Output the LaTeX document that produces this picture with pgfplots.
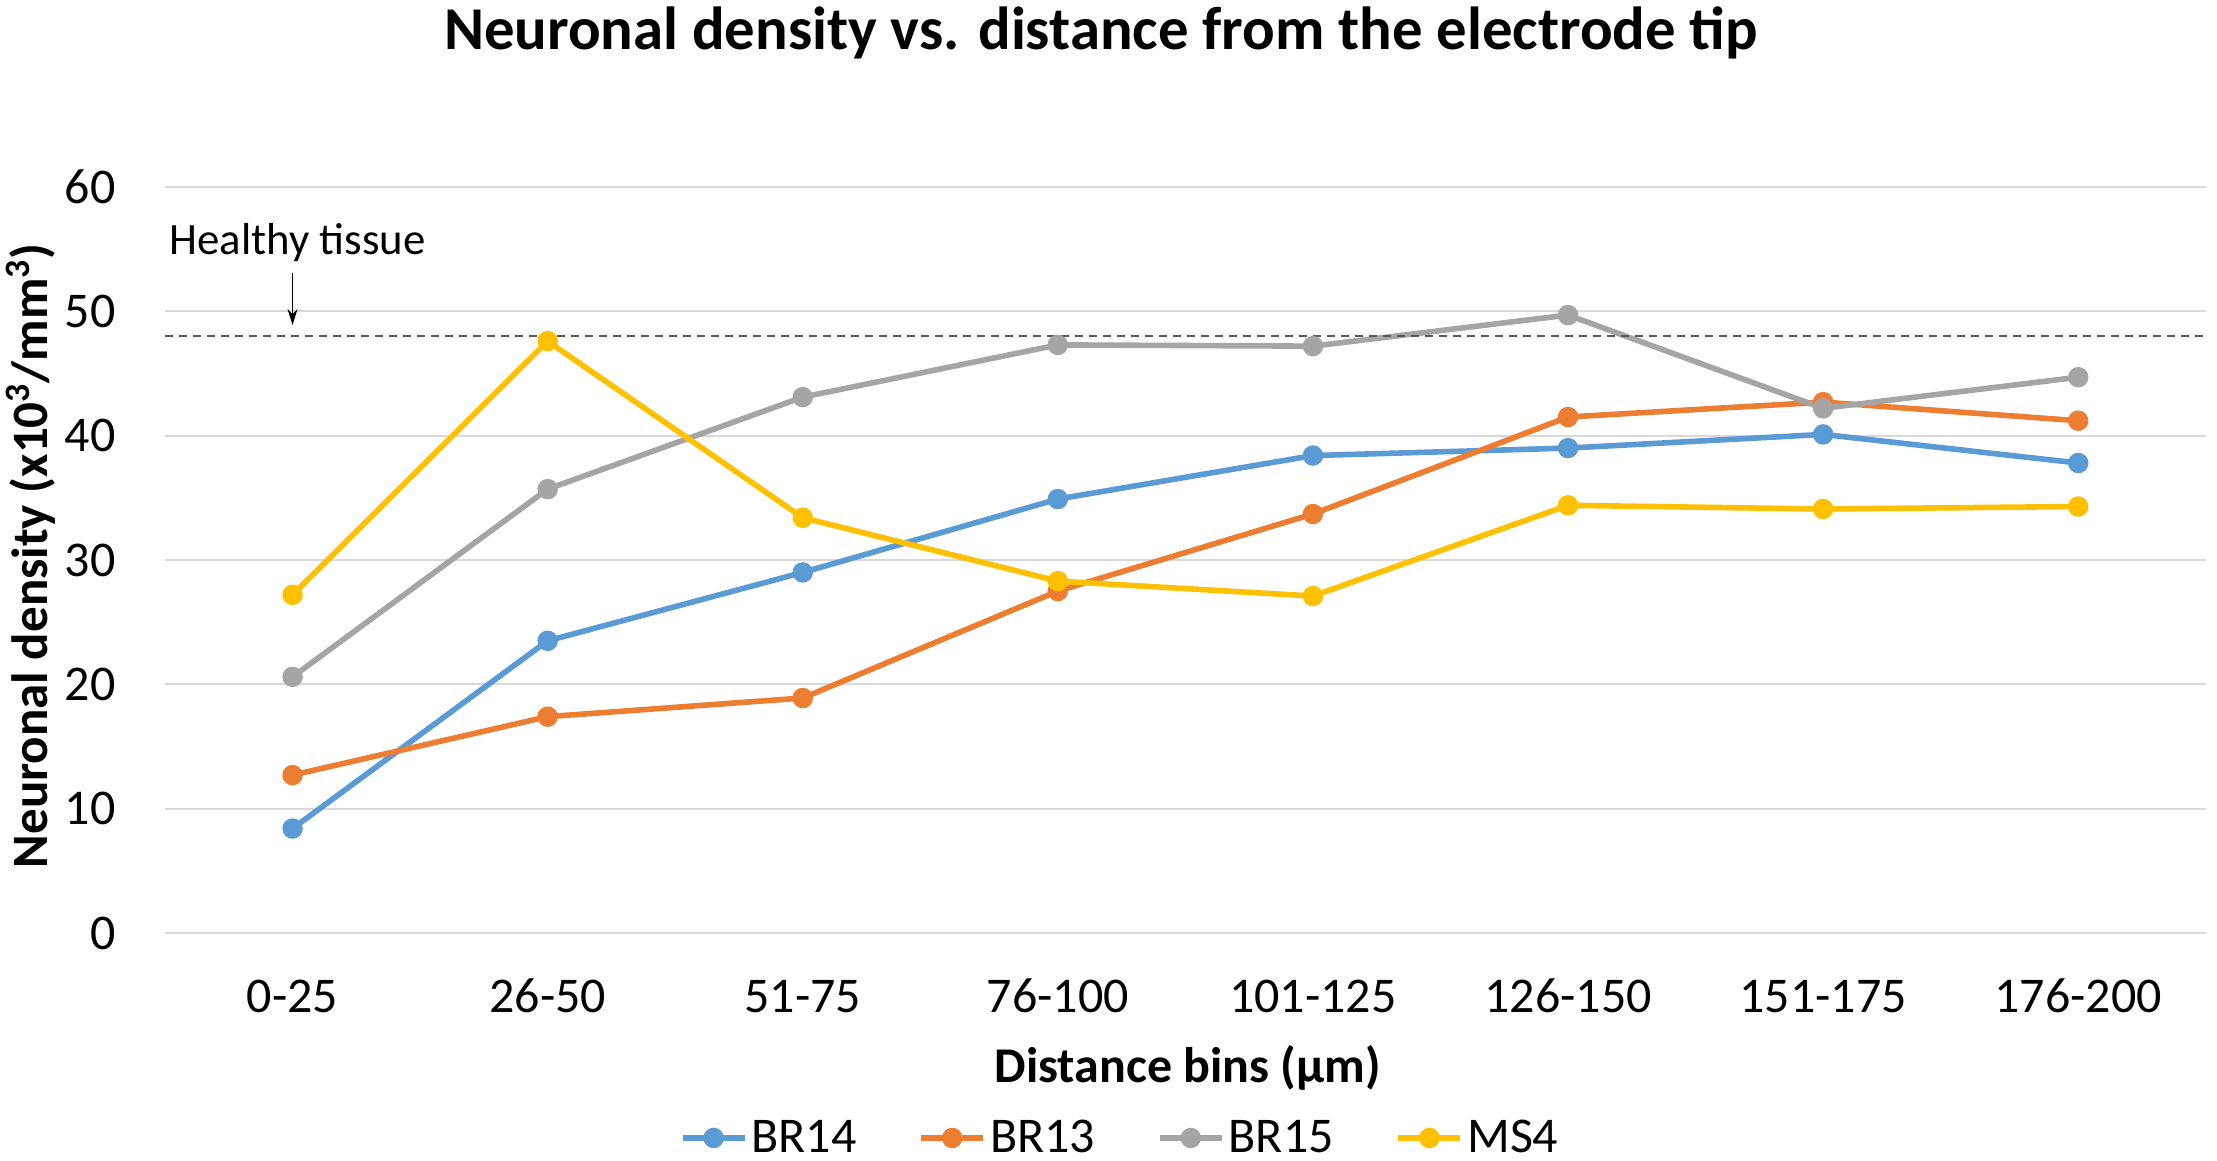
\documentclass[border=0pt]{standalone}
\usepackage{fontspec}
\setmainfont{Carlito}
\usepackage{pgfplots}
\pgfplotsset{compat=1.18}
\usetikzlibrary{arrows.meta}
\definecolor{cBRa}{HTML}{5B9BD5}
\definecolor{cBRb}{HTML}{ED7D31}
\definecolor{cBRc}{HTML}{A5A5A5}
\definecolor{cMS}{HTML}{FFC000}
\definecolor{gridc}{HTML}{D9D9D9}
\pgfplotsset{myline/.style={line width=2.8pt, mark=*, mark size=3.7pt, mark options={solid}}}
\begin{document}
\begin{tikzpicture}
\useasboundingbox (-82.5pt,-114pt) rectangle (1026pt,466.5pt);
\begin{axis}[
  at={(0,0)}, anchor=south west,
  scale only axis, width=1020.5pt, height=373pt,
  xmin=-0.5, xmax=7.5, ymin=0, ymax=60,
  xtick={0,1,2,3,4,5,6,7},
  xticklabels={0-25,26-50,51-75,76-100,101-125,126-150,151-175,176-200},
  ytick={0,10,20,30,40,50,60},
  axis line style={draw=none},
  major tick length=0pt,
  ymajorgrids, grid style={color=gridc, line width=1pt},
  /pgf/number format/assume math mode=true,
  tick label style={font=\fontsize{25}{30}\selectfont},
  xticklabel style={anchor=base, inner sep=0pt, yshift=-40pt},
  yticklabel style={anchor=east, inner sep=0pt, xshift=-24.5pt},
  title={Neuronal density vs. distance from the electrode tip},
  title style={font=\fontsize{30.4}{36}\selectfont\bfseries, at={(axis description cs:0.4586,1.19)}, anchor=center},
  xlabel={Distance bins (µm)},
  xlabel style={font=\fontsize{25}{30}\selectfont\bfseries, at={(axis description cs:0.5012,-0.181)}, anchor=center},
  ylabel={Neuronal density (x10\textsuperscript{3}/mm\textsuperscript{3})},
  ylabel style={font=\fontsize{25.5}{30}\selectfont\bfseries, at={(axis description cs:-0.0657,0.5056)}, anchor=center},
  legend columns=4,
  legend style={draw=none, fill=none, at={(axis description cs:0.468,-0.2748)}, anchor=center,
    font=\fontsize{25}{30}\selectfont, column sep=0pt, nodes={inner xsep=1pt},
    /tikz/every odd column/.append style={column sep=1pt},
    /tikz/every even column/.append style={column sep=30pt}},
  legend image code/.code={\draw[mark repeat=2,mark phase=2] plot coordinates {(0pt,0pt) (15.5pt,0pt) (31pt,0pt)};},
]
\addplot[myline, color=cBRa] coordinates {(0,8.4) (1,23.5) (2,29.0) (3,34.9) (4,38.4) (5,39.0) (6,40.1) (7,37.8)};
\addlegendentry{BR14}
\addplot[myline, color=cBRb] coordinates {(0,12.7) (1,17.4) (2,18.9) (3,27.5) (4,33.7) (5,41.5) (6,42.7) (7,41.2)};
\addlegendentry{BR13}
\addplot[myline, color=cBRc] coordinates {(0,20.6) (1,35.7) (2,43.1) (3,47.3) (4,47.2) (5,49.7) (6,42.2) (7,44.7)};
\addlegendentry{BR15}
\addplot[myline, color=cMS] coordinates {(0,27.2) (1,47.6) (2,33.4) (3,28.3) (4,27.1) (5,34.4) (6,34.1) (7,34.3)};
\addlegendentry{MS4}
\draw[color=black!65, line width=0.7pt, dash pattern=on 4pt off 3pt] (axis cs:-0.5,48) -- (axis cs:7.5,48);
\draw[black, line width=0.7pt, -{Stealth[length=8pt,width=5pt]}] (axis cs:0,53.1) -- (axis cs:0,48.9);
\node[font=\fontsize{22.4}{26}\selectfont, anchor=center] at (axis cs:0.02,55.5) {Healthy tissue};
\end{axis}
\end{tikzpicture}
\end{document}
